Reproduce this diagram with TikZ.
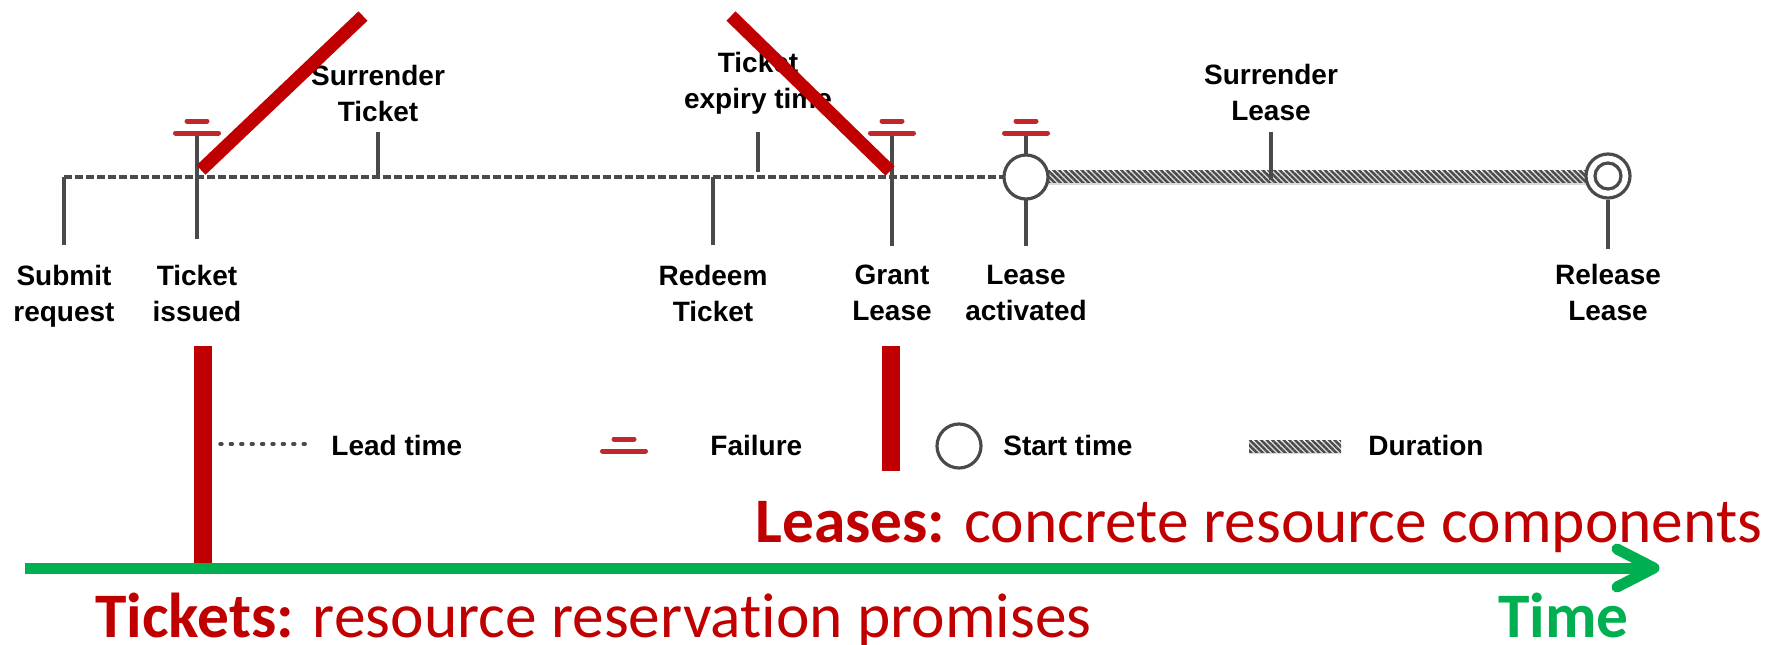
\documentclass[tikz,border=0pt]{standalone}
\usepackage{fontspec}
\setmainfont{Liberation Sans}
\newfontfamily\calfont[Ligatures=NoCommon]{Carlito}
\usetikzlibrary{positioning,patterns.meta}

\definecolor{tickgray}{HTML}{4A4A4A}
\definecolor{failred}{HTML}{C0282D}
\definecolor{darkred}{HTML}{C00000}
\definecolor{timegreen}{HTML}{00B050}

\tikzset{
  evtick/.style={tickgray, line width=1.6pt},
  lead/.style={tickgray, line width=1.6pt, dash pattern=on 4pt off 1.5pt},
  legdots/.style={tickgray, line width=1.7pt, line cap=round, dash pattern=on 1pt off 4.2pt},
  failbar/.style={failred, line width=2.5pt, line cap=round},
  failure/.pic={
    \draw[failbar] (-21.5,-44) -- (21.5,-44);
    \draw[failbar] (-10,-56) -- (10,-56);
  },
  startmark/.style={circle, draw=tickgray, line width=1.6pt, fill=white, minimum size=22pt, inner sep=0pt},
  hatch/.style={pattern={Lines[angle=-45,distance=2pt,line width=1.2pt]}, pattern color=tickgray},
  evlabel/.style={font=\bfseries\fontsize{14}{18}\selectfont, align=center, inner sep=0pt},
  leglabel/.style={font=\bfseries\fontsize{14}{18}\selectfont, anchor=west, inner sep=0pt},
  strike/.style={darkred, line width=6.5pt},
  redbar/.style={darkred, line width=9pt},
  bigtext/.style={font=\calfont\fontsize{31.7}{38}\selectfont, text=darkred, anchor=base west, inner sep=0pt},
  timeaxis/.style={timegreen, line width=5.5pt, line cap=round, line join=round}
}

\begin{document}
\begin{tikzpicture}[x=0.5pt,y=-0.5pt]
  \useasboundingbox (0,0) rectangle (1779,644);

  % points on the time line
  \coordinate (submit)   at (64,177);
  \coordinate (issued)   at (197,177);
  \coordinate (surrt)    at (378,177);
  \coordinate (redeem)   at (713,177);
  \coordinate (expiry)   at (758,177);
  \coordinate (grant)    at (892,177);
  \coordinate (activeC)  at (1026,177);
  \coordinate (surrl)    at (1271,177);
  \coordinate (releaseC) at (1608,176);

  % lead time and duration
  \draw[lead] (submit) -- (activeC);
  \fill[gray!30] (activeC) ++(0,-5) rectangle ([yshift=-4.5pt]releaseC);
  \fill[hatch] (activeC) ++(0,-7) rectangle ([yshift=-3pt]releaseC);

  % ticks
  \draw[evtick] (submit) -- ++(0,68);
  \draw[evtick] (issued) ++(0,-44) -- ++(0,106);
  \draw[evtick] (surrt) ++(0,-45) -- (surrt);
  \draw[evtick] (redeem) -- ++(0,68);
  \draw[evtick] (expiry) ++(0,-45) -- ++(0,40);
  \draw[evtick] (grant) ++(0,-44) -- ++(0,113);
  \draw[evtick] (activeC) ++(0,-44) -- ++(0,113);
  \draw[evtick] (surrl) ++(0,-45) -- ++(0,48);

  \node[startmark] (active) at (activeC) {};
  \node[startmark] (release) at (releaseC) {};
  \node[startmark, minimum size=13pt] (releasein) at (releaseC) {};
  \draw[evtick] (release.south) -- ++(0,49);

  \pic at (issued) {failure};
  \pic at (grant) {failure};
  \pic at (activeC) {failure};

  % labels
  \node[evlabel, below=44pt of submit] (submitlbl) {Submit\\request};
  \node[evlabel, below=44pt of issued] (issuedlbl) {Ticket\\issued};
  \node[evlabel, below=44pt of redeem] (redeemlbl) {Redeem\\Ticket};
  \node[evlabel, below=44pt of grant] (grantlbl) {Grant\\Lease};
  \node[evlabel, below=44pt of activeC] (activelbl) {Lease\\activated};
  \node[evlabel, below=44pt of releaseC] (releaselbl) {Release\\Lease};
  \node[evlabel, anchor=north] (surrtlbl) at ([yshift=56pt]surrt) {Surrender\\Ticket};
  \node[evlabel, anchor=north] (expirylbl) at ([yshift=62.5pt]expiry) {Ticket\\expiry time};
  \node[evlabel, anchor=north] (surrllbl) at ([yshift=56.5pt]surrl) {Surrender\\Lease};

  % legend
  \node[leglabel] (leadlbl) at (331,445) {Lead time};
  \node[leglabel] (faillbl) at (710,445) {Failure};
  \node[leglabel] (startlbl) at (1003,445) {Start time};
  \node[leglabel] (durlbl) at (1368,445) {Duration};
  \draw[legdots] (220,444) -- (312,444);
  \pic at (624,495) {failure};
  \node[startmark] (startleg) at (959,446) {};
  \fill[gray!30] (1249,442) rectangle (1341,454);
  \fill[hatch] (1249,440) rectangle (1341,452);

  % strikes
  \draw[strike] (363,16) -- (201,170);
  \draw[strike] (731,16) -- (890,171);

  % tickets and leases
  \draw[redbar] (203,346) -- (203,563);
  \draw[redbar] (891,346) -- (891,471);

  \coordinate (t0) at (25,568);
  \coordinate (t1) at (1654,568);
  \draw[timegreen, line width=5.5pt] (t0) -- (t1);
  \draw[timeaxis] (t1) ++(-37,-19) -- (t1) -- ++(-37,19);

  \node[bigtext] (leases) at (755,542) {\textbf{Leases:} concrete resource components};
  \node[bigtext] (tickets) at (95,637) {\textbf{Tickets:} resource reservation promises};
  \node[bigtext, text=timegreen] (timelbl) at (1498,637) {\textbf{Time}};
\end{tikzpicture}
\end{document}
